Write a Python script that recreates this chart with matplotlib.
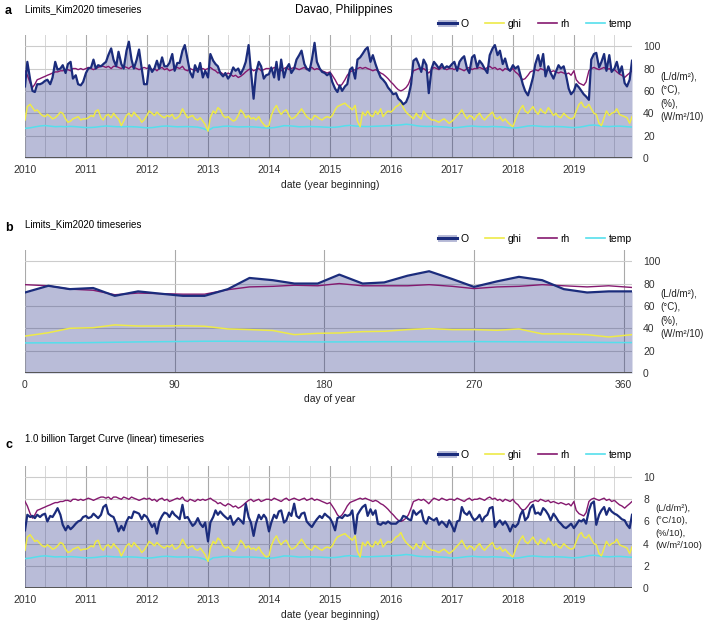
import matplotlib
matplotlib.use("Agg")
import matplotlib.pyplot as plt
import matplotlib.dates as mdates
from matplotlib.patches import Patch
from matplotlib.lines import Line2D
from matplotlib.legend_handler import HandlerTuple
import numpy as np
import pandas as pd

plt.rcParams['font.family'] = ['Liberation Sans', 'DejaVu Sans']

# ---- data: weekly-ish series (semi-monthly samples) ----
O_a = [64, 86, 70, 60, 59, 66, 66, 67, 69, 70, 66, 72, 86, 79, 80, 83, 76, 84, 86, 71, 74, 66, 65, 68,
       76, 80, 81, 88, 80, 83, 82, 84, 86, 92, 98, 88, 82, 95, 84, 80, 96, 104, 88, 80, 88, 97, 80, 66,
       66, 83, 77, 80, 87, 80, 90, 82, 82, 85, 93, 78, 85, 85, 96, 101, 88, 77, 72, 83, 77, 85, 72, 78,
       72, 93, 87, 84, 82, 76, 73, 76, 71, 74, 81, 78, 80, 75, 80, 86, 101, 78, 53, 76, 86, 82, 71, 74,
       75, 81, 72, 86, 70, 88, 72, 80, 84, 76, 80, 88, 92, 96, 84, 80, 78, 88, 103, 86, 80, 77, 76, 74,
       76, 68, 62, 59, 65, 60, 64, 66, 79, 81, 71, 88, 90, 93, 97, 99, 86, 92, 84, 78, 72, 70, 67, 63,
       60, 57, 58, 53, 51, 48, 50, 55, 66, 87, 89, 84, 77, 88, 83, 58, 80, 86, 83, 80, 84, 80, 82, 81,
       84, 86, 78, 86, 89, 91, 80, 76, 90, 92, 81, 87, 84, 80, 76, 92, 98, 101, 92, 96, 84, 89, 80, 78,
       83, 80, 82, 74, 66, 60, 56, 63, 72, 84, 92, 82, 93, 73, 82, 76, 71, 77, 83, 80, 82, 74, 62, 57,
       60, 66, 63, 60, 57, 55, 52, 88, 93, 94, 81, 86, 93, 78, 92, 77, 80, 86, 76, 82, 67, 64, 70, 87]

rh_a = [78, 74, 67, 63, 66, 70, 71, 72, 73, 74, 75, 76, 77, 77, 78, 78, 79, 79, 78, 80, 80, 79, 80, 79,
        80, 81, 80, 79, 80, 81, 82, 82, 81, 82, 80, 82, 82, 81, 80, 82, 81, 80, 82, 81, 80, 79, 80, 81,
        80, 81, 79, 80, 78, 80, 81, 79, 80, 78, 79, 80, 81, 80, 82, 79, 78, 80, 79, 78, 80, 79, 80, 79,
        80, 81, 79, 78, 76, 77, 75, 74, 76, 75, 73, 74, 72, 73, 75, 77, 79, 80, 78, 79, 80, 78, 79, 80,
        80, 79, 81, 80, 79, 78, 80, 81, 79, 80, 81, 80, 79, 80, 81, 79, 80, 81, 79, 80, 79, 78, 77, 76,
        77, 74, 70, 66, 64, 66, 70, 74, 77, 78, 79, 80, 81, 80, 81, 80, 79, 78, 79, 78, 76, 75, 73, 71,
        68, 66, 63, 61, 60, 61, 63, 66, 72, 78, 79, 80, 79, 80, 78, 76, 79, 81, 80, 79, 81, 80, 79, 80,
        80, 79, 81, 80, 79, 78, 80, 81, 79, 80, 80, 81, 80, 79, 81, 82, 80, 81, 79, 80, 78, 80, 79, 78,
        80, 77, 75, 72, 70, 71, 74, 77, 78, 79, 78, 80, 79, 78, 79, 77, 78, 77, 76, 77, 76, 75, 76, 74,
        78, 70, 67, 66, 65, 68, 78, 80, 81, 80, 79, 80, 81, 79, 80, 78, 79, 77, 75, 74, 72, 74, 76, 78]

ghi_a = [34, 46, 48, 45, 42, 43, 40, 38, 37, 39, 37, 35, 36, 38, 41, 40, 35, 32, 33, 35, 36, 37, 34, 35,
         35, 36, 38, 37, 42, 43, 36, 34, 38, 39, 36, 40, 37, 35, 29, 33, 38, 40, 37, 41, 38, 36, 32, 34,
         38, 42, 40, 38, 41, 39, 37, 36, 38, 37, 39, 35, 36, 38, 44, 40, 36, 37, 38, 35, 34, 36, 33, 30,
         24, 36, 42, 40, 45, 43, 38, 36, 37, 35, 33, 34, 38, 43, 40, 36, 38, 35, 36, 34, 37, 33, 30, 28,
         29, 38, 44, 47, 42, 39, 42, 43, 38, 35, 36, 38, 41, 44, 40, 37, 35, 34, 38, 37, 35, 34, 36, 37,
         36, 38, 43, 46, 47, 48, 49, 47, 45, 43, 47, 33, 28, 41, 38, 42, 38, 37, 42, 39, 44, 37, 40, 42,
         41, 43, 46, 47, 50, 45, 41, 39, 37, 35, 40, 37, 35, 42, 38, 36, 34, 34, 33, 32, 34, 35, 33, 31,
         33, 35, 38, 40, 43, 39, 35, 38, 37, 34, 38, 40, 36, 34, 37, 39, 41, 36, 35, 37, 33, 35, 32, 30,
         28, 34, 40, 44, 47, 42, 40, 43, 46, 42, 39, 44, 41, 40, 45, 42, 38, 40, 37, 36, 40, 38, 36, 35,
         36, 42, 48, 50, 46, 45, 48, 44, 40, 39, 31, 29, 36, 42, 38, 40, 41, 44, 39, 38, 37, 36, 31, 37]

# monthly temperature (one extra point at Jan 2020 closes the line)
temp_a = [26.5, 27.0, 27.8, 28.6, 29.0, 28.5, 28.0, 28.2, 28.0, 28.3, 28.0, 27.6,
          27.2, 27.3, 27.6, 28.2, 28.6, 28.3, 28.0, 27.9, 28.1, 28.0, 27.8, 27.4,
          27.0, 27.2, 27.8, 28.4, 28.6, 28.2, 27.9, 28.0, 28.1, 27.9, 27.6, 26.5,
          24.5, 27.3, 27.6, 28.3, 28.5, 28.1, 27.8, 27.9, 28.0, 27.8, 27.5, 27.0,
          26.8, 27.2, 27.9, 28.9, 28.8, 28.4, 27.9, 28.0, 28.2, 28.0, 27.9, 27.6,
          27.4, 27.5, 28.0, 28.8, 29.2, 28.6, 28.3, 28.1, 28.2, 28.4, 28.6, 28.8,
          29.0, 29.3, 29.6, 30.2, 29.8, 28.9, 28.4, 28.2, 28.3, 28.1, 27.9, 27.6,
          27.0, 27.2, 27.7, 28.3, 28.6, 28.2, 28.0, 27.9, 28.2, 28.0, 27.8, 27.2,
          26.9, 27.1, 27.8, 28.6, 28.9, 28.5, 28.1, 28.0, 28.2, 28.1, 27.9, 27.5,
          27.2, 27.5, 28.2, 29.2, 29.5, 28.9, 28.3, 28.1, 28.4, 28.5, 28.2, 27.8,
          27.6]

O_c = [5.2, 6.6, 6.4, 6.5, 6.3, 6.6, 6.4, 6.6, 6.7, 6.0, 6.5, 6.4, 6.8, 7.2, 6.6, 5.7, 5.2, 5.6, 5.3, 5.5, 5.8, 6.0, 6.1, 6.4,
       6.5, 6.3, 6.4, 6.7, 6.5, 6.3, 6.6, 7.3, 7.5, 6.7, 6.5, 6.4, 5.8, 5.1, 5.6, 5.2, 6.0, 6.4, 6.3, 6.9, 6.8, 6.7, 6.2, 6.6,
       6.4, 6.0, 5.5, 5.8, 4.9, 6.0, 6.5, 6.8, 6.7, 6.4, 6.9, 6.6, 6.4, 6.2, 7.5, 6.3, 6.4, 6.0, 5.6, 5.8, 6.3, 5.8, 5.5, 5.9,
       4.2, 5.9, 6.4, 7.0, 6.6, 6.9, 6.6, 6.4, 6.2, 6.5, 5.7, 6.0, 6.3, 6.1, 5.8, 7.6, 6.4, 5.9, 4.7, 5.8, 6.6, 6.2, 6.6, 6.3,
       5.1, 5.9, 6.6, 6.3, 6.9, 7.0, 5.9, 6.1, 6.8, 6.5, 7.6, 6.5, 6.3, 6.7, 6.8, 6.0, 5.7, 5.5, 5.9, 6.2, 6.5, 6.3, 6.7, 6.5,
       6.3, 5.9, 5.2, 6.3, 6.4, 6.3, 6.6, 6.5, 6.6, 7.0, 4.9, 6.6, 7.0, 7.3, 7.5, 6.5, 7.1, 6.6, 7.0, 5.8, 5.7, 5.9, 5.8, 6.0,
       5.8, 5.8, 5.8, 6.0, 6.1, 6.5, 6.4, 6.2, 6.1, 7.0, 6.6, 6.8, 7.0, 6.1, 5.8, 6.4, 6.2, 6.1, 6.3, 5.7, 6.0, 5.8, 5.5, 6.1,
       5.6, 5.1, 6.0, 6.1, 7.3, 6.8, 6.6, 6.9, 6.4, 6.1, 6.3, 6.6, 6.0, 6.4, 6.6, 7.2, 7.3, 5.5, 5.9, 6.1, 5.7, 6.0, 5.6, 5.1,
       5.7, 5.5, 5.8, 6.6, 7.0, 6.1, 6.4, 7.2, 7.5, 6.7, 6.8, 6.6, 7.2, 7.0, 6.6, 6.1, 6.7, 6.4, 6.0, 5.8, 5.5, 5.4, 5.6, 5.8,
       5.4, 5.7, 6.1, 6.0, 6.2, 5.8, 7.0, 7.6, 7.8, 5.7, 6.6, 7.0, 7.3, 6.6, 7.2, 6.9, 6.7, 6.6, 6.4, 6.2, 6.1, 5.7, 5.4, 6.6]
target_c = 6.0

# day-of-year climatology (panel b)
days_b = [0, 14, 27, 41, 54, 68, 81, 95, 108, 122, 135, 149, 162, 176,
          189, 203, 216, 230, 243, 257, 270, 284, 297, 311, 324, 338, 351, 365]
O_b = [72, 78, 75, 76, 69, 73, 71, 69, 69, 75, 85, 83, 80, 80,
       88, 80, 81, 87, 91, 84, 77, 82, 86, 83, 75, 72, 73, 73]
rh_b = [79, 78, 75, 74, 70, 71.5, 71, 70.5, 70.5, 74.5, 77, 77.5, 78.5, 78,
        80, 78, 78, 78, 79, 77.5, 75.5, 77, 77.5, 79, 78, 77, 78, 76.5]
ghi_b = [33, 36, 40, 40.5, 43, 42, 42, 42.3, 41.8, 39.4, 38.8, 38, 34.3, 35.5,
         35.8, 37, 37.3, 38.8, 39.7, 38.8, 38.8, 38.2, 39.4, 35, 35, 34.3, 32.2, 34.3]
temp_b = [26.9, 27.0, 27.0, 27.2, 27.5, 27.8, 28.0, 28.2, 28.4, 28.4, 28.3, 28.2, 28.0, 27.8,
          27.8, 27.9, 28.0, 28.0, 28.0, 28.0, 28.1, 28.0, 27.9, 27.8, 27.6, 27.5, 27.3, 27.2]

dates = pd.date_range('2010-01-01', periods=len(O_a), freq='SMS')
tdates = pd.date_range('2010-01-01', periods=len(temp_a), freq='MS')

NAVY = '#1b2c7c'
YEL = '#eeea48'
PURP = '#85196f'
CYAN = '#55dfec'
FILL = '#1a237e'
FS = 7.5

fig = plt.figure(figsize=(7.07, 6.23), dpi=100)
W, H = 707.0, 623.0


def ax_at(top, bottom):
    return fig.add_axes([25 / W, 1 - bottom / H, 607 / W, (bottom - top) / H])


def style(ax, ymax, step):
    for s in ax.spines.values():
        s.set_visible(False)
    ax.set_ylim(0, ymax)
    ax.set_yticks(np.arange(0, ymax, step))
    ax.yaxis.tick_right()
    ax.tick_params(axis='y', length=0, pad=8, labelsize=FS, labelcolor='#333333')
    ax.tick_params(axis='x', length=0, pad=5, labelsize=FS, labelcolor='#333333')
    ax.grid(axis='y', color='#cccccc', lw=0.8, zorder=0)
    ax.axhline(0, color='#555555', lw=1.4, zorder=5)
    ax.set_axisbelow(True)


def legend(ax, y):
    h_o = (Patch(facecolor=FILL, alpha=0.3, edgecolor='none'), Line2D([], [], color=NAVY, lw=2.2))
    hs = [h_o, Line2D([], [], color=YEL, lw=1.2), Line2D([], [], color=PURP, lw=1.2),
          Line2D([], [], color=CYAN, lw=1.2)]
    fig.legend(hs, ['O', 'ghi', 'rh', 'temp'], loc='center right',
               bbox_to_anchor=(632 / W, 1 - y / H), ncol=4, frameon=False, borderpad=0,
               borderaxespad=0, fontsize=FS, handlelength=1.8, handletextpad=0.35,
               columnspacing=1.6, handler_map={tuple: HandlerTuple(ndivide=1, pad=0)})


def date_axis(ax):
    ax.set_xlim(dates[0], dates[-1])
    ax.xaxis.set_major_locator(mdates.YearLocator())
    ax.xaxis.set_major_formatter(mdates.DateFormatter('%Y'))
    ax.xaxis.set_minor_locator(mdates.MonthLocator(bymonth=[5, 9]))
    ax.grid(axis='x', which='major', color='#aaaaaa', lw=0.8, zorder=0)
    ax.grid(axis='x', which='minor', color='#d6d6d6', lw=0.7, zorder=0)
    ax.tick_params(axis='x', which='minor', length=0)


# ---- panel a ----
ax = ax_at(35, 158)
style(ax, 110, 20)
date_axis(ax)
ax.fill_between(dates, 0, O_a, color=FILL, alpha=0.3, lw=0, zorder=1)
ax.plot(tdates, temp_a, color=CYAN, lw=1.1, zorder=3)
ax.plot(dates, ghi_a, color=YEL, lw=1.1, zorder=3)
ax.plot(dates, rh_a, color=PURP, lw=1, zorder=3)
ax.plot(dates, O_a, color=NAVY, lw=1.6, zorder=4)
legend(ax, 24)

# ---- panel b ----
ax = ax_at(250, 373)
style(ax, 110, 20)
ax.set_xlim(0, 365)
ax.set_xticks([0, 90, 180, 270, 360])
ax.grid(axis='x', color='#aaaaaa', lw=0.8, zorder=0)
ax.fill_between(days_b, 0, O_b, color=FILL, alpha=0.3, lw=0, zorder=1)
ax.plot(days_b, temp_b, color=CYAN, lw=1.1, zorder=3)
ax.plot(days_b, ghi_b, color=YEL, lw=1.1, zorder=3)
ax.plot(days_b, rh_b, color=PURP, lw=1, zorder=3)
ax.plot(days_b, O_b, color=NAVY, lw=1.6, zorder=4)
legend(ax, 239)

# ---- panel c ----
ax = ax_at(466, 588)
style(ax, 11, 2)
date_axis(ax)
ax.fill_between(dates, 0, target_c, color=FILL, alpha=0.3, lw=0, zorder=1)
ax.plot(tdates, np.array(temp_a) / 10, color=CYAN, lw=1.1, zorder=3)
ax.plot(dates, np.array(ghi_a) / 10, color=YEL, lw=1.1, zorder=3)
ax.plot(dates, np.array(rh_a) / 10, color=PURP, lw=1, zorder=3)
ax.plot(dates, O_c, color=NAVY, lw=1.6, zorder=4)
legend(ax, 455)

# ---- text ----
txt = dict(fontsize=FS, color='#222222')
fig.text(5 / W, 1 - 11 / H, 'a', fontsize=9, fontweight='bold', va='center')
fig.text(5 / W, 1 - 228 / H, 'b', fontsize=9, fontweight='bold', va='center')
fig.text(5 / W, 1 - 445 / H, 'c', fontsize=9, fontweight='bold', va='center')
fig.text(25 / W, 1 - 9 / H, 'Limits_Kim2020 timeseries', fontsize=7, va='center')
fig.text(25 / W, 1 - 224 / H, 'Limits_Kim2020 timeseries', fontsize=7, va='center')
fig.text(25 / W, 1 - 439 / H, '1.0 billion Target Curve (linear) timeseries', fontsize=7, va='center')
fig.text(344 / W, 1 - 10 / H, 'Davao, Philippines', fontsize=8.5, ha='center', va='center')
fig.text(330 / W, 1 - 185 / H, 'date (year beginning)', ha='center', va='center', **txt)
fig.text(330 / W, 1 - 399 / H, 'day of year', ha='center', va='center', **txt)
fig.text(330 / W, 1 - 615 / H, 'date (year beginning)', ha='center', va='center', **txt)
units_a = '(L/d/m²),\n(°C),\n(%),\n(W/m²/10)'
units_c = '(L/d/m²),\n(°C/10),\n(%/10),\n(W/m²/100)'
ufs = dict(fontsize=7, color='#222222', va='center', linespacing=1.4)
fig.text(660 / W, 1 - 97 / H, units_a, **ufs)
fig.text(660 / W, 1 - 314 / H, units_a, **ufs)
fig.text(655 / W, 1 - 527 / H, units_c, fontsize=6.7, color='#222222', va='center',
         linespacing=1.45)

fig.savefig('out.png', dpi=100)
